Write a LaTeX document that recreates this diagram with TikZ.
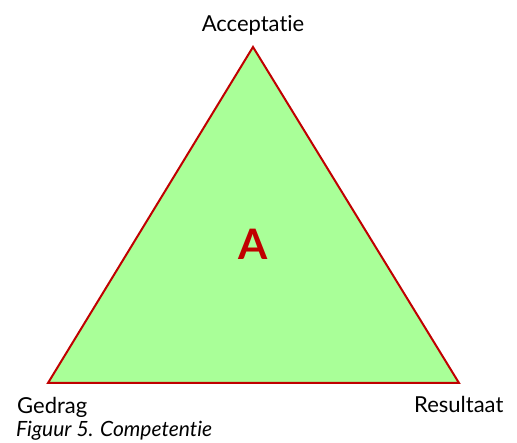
\documentclass[tikz,border=0pt]{standalone}
\usepackage{fontspec}
\setmainfont{Lato}[Ligatures={NoCommon}]
\usetikzlibrary{positioning}
\definecolor{edgered}{HTML}{C00000}
\definecolor{softgreen}{HTML}{A9FF98}
\tikzset{
    every picture/.style={line cap=round,line join=round},
    triangle/.style={draw=edgered,fill=softgreen,line width=2pt,line join=miter},
    cornerlabel/.style={inner sep=0pt,text=black,font=\fontsize{22}{26}\selectfont},
    centerletter/.style={inner sep=0pt,text=edgered,font=\fontsize{42}{48}\selectfont\bfseries},
    caption/.style={inner sep=0pt,text=black,font=\fontsize{21}{25}\selectfont\itshape}
}
\begin{document}
\begin{tikzpicture}[x=1pt,y=1pt]
    \useasboundingbox (0,0) rectangle (517,443);
    \coordinate (apex) at (253,396);
    \coordinate (lowleft) at (48,60);
    \coordinate (lowright) at (459,60);
    \draw[triangle] (apex)--(lowleft)--(lowright)--cycle;
    \node[centerletter,anchor=base] (letter) at (253,183) {A};
    \node[cornerlabel,anchor=base] (accept) at (253,411) {Acceptatie};
    \node[cornerlabel,anchor=base west] (behave) at (17,29) {Gedrag};
    \node[cornerlabel,anchor=base west] (result) at (414,30) {Resultaat};
    \node[caption,anchor=base west] (figcap) at (16,6) {Figuur 5. Competentie};
\end{tikzpicture}
\end{document}
